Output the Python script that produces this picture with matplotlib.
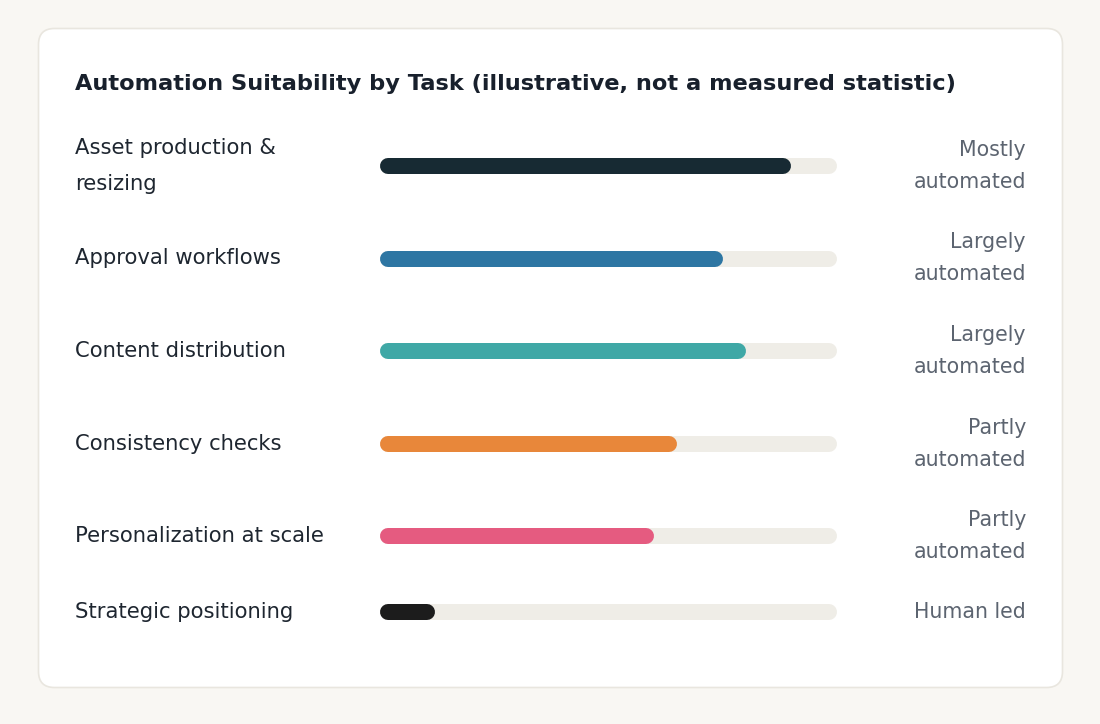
"""Automation suitability by task - rounded progress-bar chart."""
import matplotlib.pyplot as plt
from matplotlib.patches import FancyBboxPatch

plt.rcParams["font.family"] = ["DejaVu Sans"]

TITLE = "Automation Suitability by Task (illustrative, not a measured statistic)"
tasks = [
    "Asset production &\nresizing",
    "Approval workflows",
    "Content distribution",
    "Consistency checks",
    "Personalization at scale",
    "Strategic positioning",
]
scores = [90, 75, 80, 65, 60, 12]
levels = [
    "Mostly\nautomated",
    "Largely\nautomated",
    "Largely\nautomated",
    "Partly\nautomated",
    "Partly\nautomated",
    "Human led",
]
bar_colors = ["#172a33", "#2e76a3", "#3fa8a6", "#e8873a", "#e55b80", "#1c1c1c"]

W, H = 1100, 724
LINE_H = 33     # px per text line
GAP = 26.5      # px between rows
BAR_H = 16      # px bar thickness
TRACK_X0, TRACK_X1 = 380, 837

fig = plt.figure(figsize=(W / 100, H / 100), dpi=100)
fig.patch.set_facecolor("#f9f7f3")

# base axes in pixel coordinates for card + text
base = fig.add_axes([0, 0, 1, 1])
base.set_xlim(0, W)
base.set_ylim(H, 0)
base.axis("off")

card = FancyBboxPatch((38.5, 28.5), 1024, 659, boxstyle="round,pad=0,rounding_size=16",
                      facecolor="white", edgecolor="#e9e6df", linewidth=1.2)
base.add_patch(card)

base.text(75, 90, TITLE, fontsize=16.2, fontweight="bold", color="#18202c",
          va="baseline", ha="left")

# row centres from the number of lines in each row
centres = []
y = 133
for t, lv in zip(tasks, levels):
    n = max(t.count("\n"), lv.count("\n")) + 1
    h = n * LINE_H
    centres.append(y + h / 2)
    y += h + GAP

# bars live in their own axes, x = score in percent
bax = fig.add_axes([TRACK_X0 / W, 0, (TRACK_X1 - TRACK_X0) / W, 1])
bax.set_xlim(0, 100)
bax.set_ylim(H, 0)
bax.axis("off")
r = (BAR_H / 2) / (TRACK_X1 - TRACK_X0) * 100
lw = BAR_H * 72 / 100

for yc, task, val, lv, col in zip(centres, tasks, scores, levels, bar_colors):
    bax.plot([r, 100 - r], [yc, yc], color="#efede7", lw=lw, solid_capstyle="round")
    bax.plot([r, val - r], [yc, yc], color=col, lw=lw, solid_capstyle="round")
    base.text(75, yc, task, fontsize=15.2, color="#1e2630", va="center", ha="left",
              linespacing=1.95)
    base.text(1026, yc, lv, fontsize=14.8, color="#5c6470", va="center", ha="right",
              linespacing=1.75)

fig.savefig("out.png", dpi=100, facecolor=fig.get_facecolor())
